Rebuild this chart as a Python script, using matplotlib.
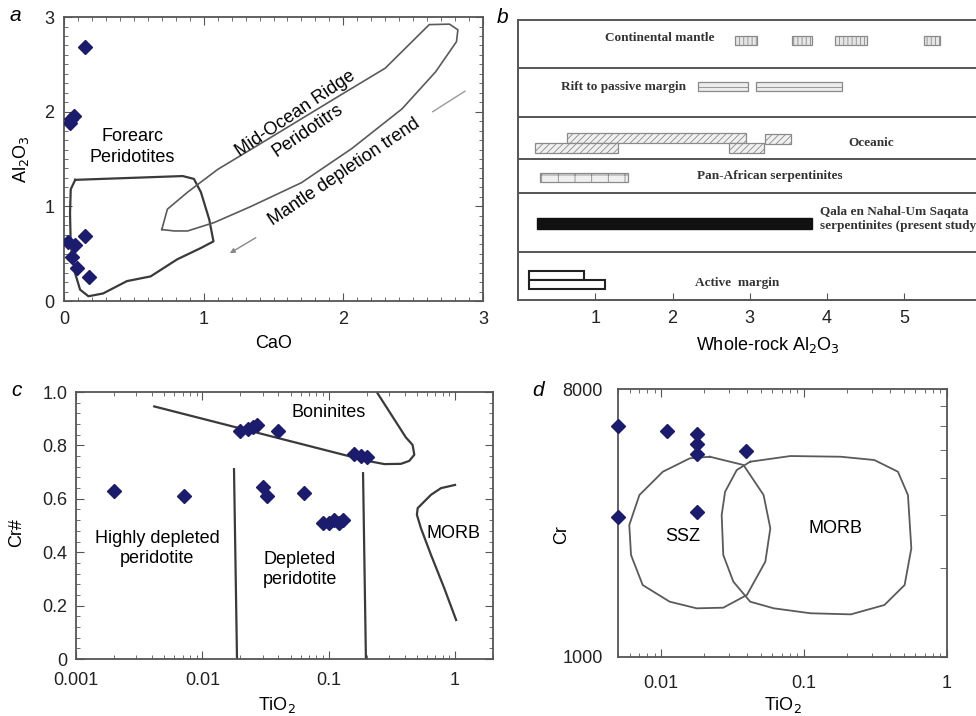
import matplotlib
matplotlib.use('Agg')
import matplotlib.pyplot as plt
from matplotlib.ticker import MultipleLocator, FixedLocator, NullFormatter, LogLocator

plt.rcParams['font.family'] = ['Liberation Sans', 'DejaVu Sans']
plt.rcParams['hatch.linewidth'] = 0.6

pt_color = '#1c1c6e'
line_col = '#3a3a3a'
frame_col = '#555555'

# ---- panel a: CaO vs Al2O3
cao = [0.15, 0.07, 0.04, 0.05, 0.03, 0.08, 0.15, 0.06, 0.09, 0.18]
al2o3 = [2.68, 1.95, 1.88, 1.92, 0.62, 0.59, 0.69, 0.47, 0.35, 0.25]
forearc_cao = [0.08, 0.85, 0.93, 0.98, 1.04, 1.07, 0.98, 0.81, 0.62, 0.45, 0.28, 0.175, 0.115, 0.08, 0.048, 0.043, 0.048]
forearc_al = [1.28, 1.32, 1.29, 1.15, 0.86, 0.63, 0.56, 0.44, 0.26, 0.21, 0.08, 0.05, 0.12, 0.29, 0.58, 0.93, 1.18]
mor_cao = [0.70, 0.74, 0.885, 1.10, 1.46, 1.94, 2.30, 2.615, 2.76, 2.82, 2.81, 2.66, 2.42, 2.06, 1.70, 1.34, 1.077, 0.885, 0.79]
mor_al = [0.755, 0.97, 1.15, 1.39, 1.71, 2.14, 2.46, 2.92, 2.925, 2.865, 2.74, 2.42, 2.03, 1.61, 1.25, 1.0, 0.83, 0.74, 0.74]

# ---- panel b: whole-rock Al2O3 ranges
row_edges = [0, 47.7, 107.3, 140.7, 182.7, 231.7, 280]
cont_lo = [2.81, 3.55, 4.10, 5.26]
cont_hi = [3.09, 3.80, 4.52, 5.46]
rift_lo = [2.33, 3.08]
rift_hi = [2.98, 4.19]
ocean_lo = [0.64, 0.22, 2.73, 3.20]
ocean_hi = [2.95, 1.30, 3.19, 3.54]
ocean_lvl = [162.3, 152.3, 152.2, 161.0]
pan_lo = [0.29]
pan_hi = [1.42]
qala_lo = [0.25]
qala_hi = [3.81]
active_lo = [0.14, 0.14]
active_hi = [0.86, 1.12]
active_lvl = [24.7, 15.3]

# ---- panel c: TiO2 vs Cr#
tio2_c = [0.002, 0.0072, 0.020, 0.023, 0.025, 0.027, 0.040, 0.030, 0.0326, 0.064,
          0.09, 0.10, 0.11, 0.12, 0.13, 0.16, 0.18, 0.20]
crno_c = [0.63, 0.61, 0.855, 0.86, 0.87, 0.875, 0.855, 0.645, 0.61, 0.62,
          0.51, 0.51, 0.52, 0.51, 0.52, 0.767, 0.76, 0.757]
bon_tio2 = [0.00416, 0.203, 0.276, 0.373, 0.434, 0.476, 0.461, 0.408, 0.243]
bon_cr = [0.946, 0.742, 0.73, 0.731, 0.742, 0.765, 0.802, 0.83, 0.996]
split1_tio2 = [0.0178, 0.0188]
split2_tio2 = [0.187, 0.197]
split1_cr = [0.711, 0.0]
split2_cr = [0.696, 0.0]
morb_tio2 = [1.0, 0.774, 0.645, 0.506, 0.499, 0.537, 0.645, 0.822, 1.02]
morb_cr = [0.652, 0.64, 0.615, 0.565, 0.54, 0.49, 0.39, 0.265, 0.146]

# ---- panel d: TiO2 vs Cr
tio2_d = [0.005, 0.011, 0.0177, 0.0177, 0.0177, 0.039, 0.0177, 0.005]
cr_d = [6010, 5780, 5640, 5230, 4840, 4960, 3090, 2970]
ssz_tio2 = [0.0219, 0.0377, 0.0521, 0.0581, 0.0536, 0.0398, 0.0272, 0.0177, 0.01145, 0.00741, 0.00614, 0.00597, 0.00703, 0.01026, 0.01585]
ssz_cr = [4735, 4440, 3516, 2714, 2094, 1616, 1464, 1457, 1534, 1746, 2205, 2785, 3516, 4215, 4677]
morbd_tio2 = [0.042, 0.0803, 0.181, 0.311, 0.455, 0.535, 0.565, 0.507, 0.366, 0.213, 0.111, 0.0614, 0.042, 0.032, 0.0272, 0.0265, 0.028, 0.0338]
morbd_cr = [4556, 4761, 4735, 4616, 4215, 3516, 2323, 1746, 1495, 1390, 1402, 1457, 1534, 1792, 2205, 3010, 3606, 4270]

fig = plt.figure(figsize=(9.76, 7.16), dpi=100)


def style_ticks(ax, pad_x, pad_y):
    ax.tick_params(which='both', direction='in', top=True, right=True, colors=frame_col, labelcolor='#222222', labelsize=13)
    ax.tick_params(which='major', length=6)
    ax.tick_params(which='minor', length=3)
    ax.tick_params(axis='x', pad=pad_x)
    ax.tick_params(axis='y', pad=pad_y)
    for s in ax.spines.values():
        s.set_color(frame_col)
        s.set_linewidth(1.3)


# ----- a
ax = fig.add_axes([0.0656, 0.5796, 0.4293, 0.3966])
ax.plot(forearc_cao + forearc_cao[:1], forearc_al + forearc_al[:1], color=line_col, lw=1.6)
ax.plot(mor_cao + mor_cao[:1], mor_al + mor_al[:1], color='#5a5a5a', lw=1.2)
ax.plot(cao, al2o3, 'D', color=pt_color, ms=7.5, zorder=5)
ax.plot([2.64, 2.87], [2.0, 2.216], color='#999999', lw=1)
ax.annotate('', xy=(1.17, 0.49), xytext=(1.39, 0.684),
            arrowprops=dict(arrowstyle='-|>', color='#888888', lw=1, mutation_scale=7))
ax.text(0.49, 1.63, 'Forearc\nPeridotites', ha='center', va='center', fontsize=13, linespacing=1.3)
ax.text(1.70, 1.89, 'Mid-Ocean Ridge\nPeridotitrs', ha='center', va='center', fontsize=13, rotation=34, linespacing=1.3)
ax.text(2.01, 1.36, 'Mantle depletion trend', ha='center', va='center', fontsize=13, rotation=34)
ax.set_xlim(0, 3)
ax.set_ylim(0, 3)
ax.set_xticks([0, 1, 2, 3])
ax.set_yticks([0, 1, 2, 3])
ax.xaxis.set_minor_locator(MultipleLocator(0.1))
ax.yaxis.set_minor_locator(MultipleLocator(0.1))
style_ticks(ax, 7, 7)
ax.set_xlabel('CaO', fontsize=13)
ax.set_ylabel('Al$_2$O$_3$', fontsize=13)
ax.xaxis.set_label_coords(0.5, -0.12)
ax.yaxis.set_label_coords(-0.078, 0.5)

# ----- b
ax = fig.add_axes([518 / 976, 416 / 716, 479 / 976, 280 / 716])
for y in row_edges[1:-1]:
    ax.axhline(y, color=frame_col, lw=1.4)
bar_kw = dict(edgecolor='#8a8a8a', linewidth=0.9)
ax.barh(259.5, [h - l for l, h in zip(cont_lo, cont_hi)], left=cont_lo, height=9,
        facecolor='#e6e6e6', hatch='||||', **bar_kw)
ax.barh(213.8, [h - l for l, h in zip(rift_lo, rift_hi)], left=rift_lo, height=9,
        facecolor='#ececec', hatch='--', **bar_kw)
ax.barh(ocean_lvl, [h - l for l, h in zip(ocean_lo, ocean_hi)], left=ocean_lo, height=10,
        facecolor='#f0f0f0', hatch='/////', **bar_kw)
ax.barh(122.5, [h - l for l, h in zip(pan_lo, pan_hi)], left=pan_lo, height=9.6,
        facecolor='#f0f0f0', hatch='+', **bar_kw)
ax.barh(76.3, [h - l for l, h in zip(qala_lo, qala_hi)], left=qala_lo, height=10.7,
        facecolor='#111111', edgecolor='#111111')
ax.barh(active_lvl, [h - l for l, h in zip(active_lo, active_hi)], left=active_lo, height=9.5,
        facecolor='white', edgecolor='#222222', linewidth=1.5)
serif = dict(family=['Liberation Serif', 'DejaVu Serif'], fontweight='bold', fontsize=9.5, color='#333333')
ax.text(1.84, 262, 'Continental mantle', ha='center', va='center', **serif)
ax.text(1.36, 212.7, 'Rift to passive margin', ha='center', va='center', **serif)
ax.text(4.57, 157.3, 'Oceanic', ha='center', va='center', **serif)
ax.text(3.26, 124.3, 'Pan-African serpentinites', ha='center', va='center', **serif)
ax.text(3.91, 80.7, 'Qala en Nahal-Um Saqata\nserpentinites (present study)', ha='left', va='center',
        linespacing=1.25, **serif)
ax.text(2.83, 17.3, 'Active  margin', ha='center', va='center', **serif)
ax.set_xlim(0, 6.2)
ax.set_ylim(row_edges[0], row_edges[-1])
ax.set_xticks([1, 2, 3, 4, 5])
ax.set_yticks([])
ax.tick_params(axis='x', direction='in', length=5, colors=frame_col, labelcolor='#222222', labelsize=13, pad=7)
for s in ax.spines.values():
    s.set_color(frame_col)
    s.set_linewidth(1.4)
ax.spines['right'].set_visible(False)
ax.set_xlabel('Whole-rock Al$_2$O$_3$', fontsize=13)
ax.xaxis.set_label_coords(0.521, -0.125)

# ----- c
ax = fig.add_axes([0.0779, 0.0796, 0.4273, 0.3729])
ax.set_xscale('log')
ax.plot(bon_tio2, bon_cr, color=line_col, lw=1.6)
ax.plot(split1_tio2, split1_cr, color=line_col, lw=1.6)
ax.plot(split2_tio2, split2_cr, color=line_col, lw=1.6)
ax.plot(morb_tio2, morb_cr, color=line_col, lw=1.6)
ax.plot(tio2_c, crno_c, 'D', color=pt_color, ms=7.5, zorder=5)
ax.text(0.1, 0.925, 'Boninites', ha='center', va='center', fontsize=13)
ax.text(0.00437, 0.415, 'Highly depleted\nperidotite', ha='center', va='center', fontsize=13, linespacing=1.25)
ax.text(0.0592, 0.334, 'Depleted\nperidotite', ha='center', va='center', fontsize=13, linespacing=1.25)
ax.text(0.97, 0.471, 'MORB', ha='center', va='center', fontsize=13)
ax.set_xlim(0.001, 2)
ax.set_ylim(0, 1)
ax.set_xticks([0.001, 0.01, 0.1, 1])
ax.set_xticklabels(['0.001', '0.01', '0.1', '1'])
ax.xaxis.set_minor_locator(LogLocator(base=10, subs=range(2, 10)))
ax.xaxis.set_minor_formatter(NullFormatter())
ax.set_yticks([0, 0.2, 0.4, 0.6, 0.8, 1.0])
ax.set_yticklabels(['0', '0.2', '0.4', '0.6', '0.8', '1.0'])
ax.yaxis.set_minor_locator(MultipleLocator(0.04))
style_ticks(ax, 9, 6)
ax.set_xlabel('TiO$_2$', fontsize=13)
ax.set_ylabel('Cr#', fontsize=13)
ax.xaxis.set_label_coords(0.481, -0.135)
ax.yaxis.set_label_coords(-0.122, 0.472)

# ----- d
ax = fig.add_axes([0.6335, 0.0828, 0.3365, 0.3735])
ax.set_xscale('log')
ax.set_yscale('log')
ax.plot(ssz_tio2 + ssz_tio2[:1], ssz_cr + ssz_cr[:1], color='#5a5a5a', lw=1.3)
ax.plot(morbd_tio2 + morbd_tio2[:1], morbd_cr + morbd_cr[:1], color='#5a5a5a', lw=1.3)
ax.plot(tio2_d, cr_d, 'D', color=pt_color, ms=7.5, zorder=5, clip_on=False)
ax.text(0.0141, 2542, 'SSZ', ha='center', va='center', fontsize=13)
ax.text(0.167, 2714, 'MORB', ha='center', va='center', fontsize=13)
ax.set_xlim(0.005, 1)
ax.set_ylim(1000, 8000)
ax.set_xticks([0.01, 0.1, 1])
ax.set_xticklabels(['0.01', '0.1', '1'])
ax.xaxis.set_minor_locator(LogLocator(base=10, subs=range(2, 10)))
ax.xaxis.set_minor_formatter(NullFormatter())
ax.set_yticks([1000, 8000])
ax.set_yticklabels(['1000', '8000'])
ax.yaxis.set_minor_locator(FixedLocator([2000, 3000, 4000, 5000, 6000, 7000]))
ax.yaxis.set_minor_formatter(NullFormatter())
style_ticks(ax, 13, 11)
ax.tick_params(axis='y', which='both', left=False, right=True, length=5)
ax.set_xlabel('TiO$_2$', fontsize=13)
ax.set_ylabel('Cr', fontsize=13)
ax.xaxis.set_label_coords(0.5, -0.143)
ax.yaxis.set_label_coords(-0.147, 0.455)

# panel letters
for x, y, s in [(0.0154, 0.978, 'a'), (0.515, 0.976, 'b'), (0.0174, 0.454, 'c'), (0.551, 0.455, 'd')]:
    fig.text(x, y, s, fontsize=15, fontstyle='italic', ha='center', va='center')

plt.savefig('out.png', dpi=100)
